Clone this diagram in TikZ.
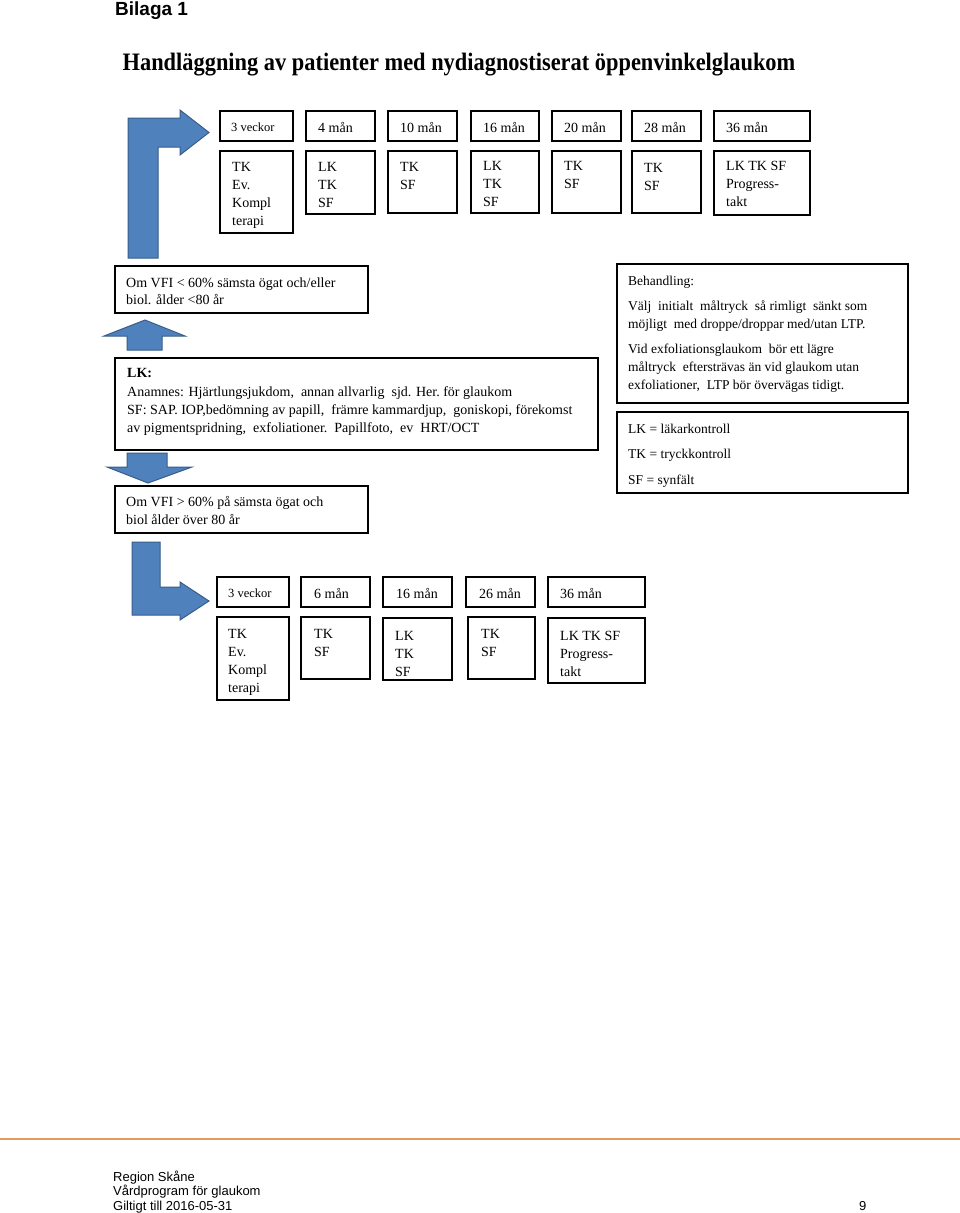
\documentclass[tikz,border=0pt]{standalone}
\usepackage{fontspec}
\setmainfont{Liberation Serif}
\newfontfamily\arialf{Liberation Sans}
\usetikzlibrary{fit}
\definecolor{arrowblue}{HTML}{4F81BD}
\definecolor{arrowedge}{HTML}{385D8A}
\definecolor{footline}{HTML}{E39A5F}
\tikzset{
  bx/.style={draw=black, line width=1.4pt, inner sep=0pt},
  txt/.style={anchor=base west, align=left, inner sep=0pt, font=\fontsize{14}{18}\selectfont},
  smalltxt/.style={anchor=base west, align=left, inner sep=0pt, font=\fontsize{12.5}{15}\selectfont},
  medtxt/.style={anchor=base west, align=left, inner sep=0pt, font=\fontsize{13.5}{18}\selectfont},
  foot/.style={anchor=base west, align=left, inner sep=0pt, font=\arialf\fontsize{13}{14.5}\selectfont},
  blockarrow/.style={fill=arrowblue, draw=arrowedge, line width=1pt, line join=miter}
}
\newcommand\mkbox[5]{\node[bx, fit={(#2,#3) (#4,#5)}] (#1) {};}
\begin{document}
\begin{tikzpicture}[x=1pt,y=-1pt]
\useasboundingbox[fill=white] (0,0) rectangle (960,1213);

% heading
\node[anchor=base west, inner sep=0pt, font=\arialf\bfseries\fontsize{19}{22}\selectfont] (bilaga) at (115,15) {Bilaga 1};
\node[anchor=base, inner sep=0pt, font=\bfseries\fontsize{22.4}{26}\selectfont] (title) at (459,70) {\scalebox{1}[1.12]{Handläggning av patienter med nydiagnostiserat öppenvinkelglaukom}};

% top timeline headers
\mkbox{h1}{220}{111}{293}{141}
\mkbox{h2}{306}{111}{375}{141}
\mkbox{h3}{388}{111}{457}{141}
\mkbox{h4}{471}{111}{539}{141}
\mkbox{h5}{552}{111}{621}{141}
\mkbox{h6}{632}{111}{701}{141}
\mkbox{h7}{714}{111}{810}{141}
\node[smalltxt] (h1t) at (231,131) {3 veckor};
\node[txt] (h2t) at (318,132) {4 mån};
\node[txt] (h3t) at (400,132) {10 mån};
\node[txt] (h4t) at (483,132) {16 mån};
\node[txt] (h5t) at (564,132) {20 mån};
\node[txt] (h6t) at (644,132) {28 mån};
\node[txt] (h7t) at (726,132) {36 mån};

% top timeline contents (anchor = baseline of last line)
\mkbox{c1}{220}{151}{293}{233}
\mkbox{c2}{306}{151}{375}{214}
\mkbox{c3}{388}{151}{457}{213}
\mkbox{c4}{471}{151}{539}{213}
\mkbox{c5}{552}{151}{621}{213}
\mkbox{c6}{632}{151}{701}{213}
\mkbox{c7}{714}{151}{810}{215}
\node[txt] (c1t) at (232,225) {TK\\Ev.\\Kompl\\terapi};
\node[txt] (c2t) at (318,207) {LK\\TK\\SF};
\node[txt] (c3t) at (400,189) {TK\\SF};
\node[txt] (c4t) at (483,206) {LK\\TK\\SF};
\node[txt] (c5t) at (564,188) {TK\\SF};
\node[txt] (c6t) at (644,190) {TK\\SF};
\node[txt] (c7t) at (726,206) {LK TK SF\\Progress-\\takt};

% top bent arrow
\draw[blockarrow] (128,258) -- (128,118) -- (180,118) -- (180,110) -- (209,132.5) -- (180,155) -- (180,147) -- (158,147) -- (158,258) -- cycle;

% left column boxes
\mkbox{vfilow}{115}{266}{368}{313}
\node[txt, font=\fontsize{14}{17}\selectfont] (vfilowt) at (126,304) {Om VFI < 60\% sämsta ögat och/eller\\biol. ålder <80 år};

\draw[blockarrow] (127,350) -- (127,336) -- (104,336) -- (145,320) -- (185,336) -- (162,336) -- (162,350) -- cycle;

\mkbox{lk}{115}{358}{598}{450}
\node[txt] (lkt) at (127,432) {\textbf{LK:}\\[1pt]Anamnes: Hjärtlungsjukdom,\ \ annan allvarlig\ \ sjd. Her.\ för glaukom\\SF: SAP. IOP,bedömning av papill,\ \ främre kammardjup,\ \ goniskopi, förekomst\\av pigmentspridning,\ \ exfoliationer.\ \ Papillfoto,\ \ ev\ \ HRT/OCT};

\draw[blockarrow] (127,453) -- (167,453) -- (167,467) -- (192,467) -- (148,483) -- (107,467) -- (127,467) -- cycle;

\mkbox{vfihigh}{115}{486}{368}{533}
\node[txt] (vfihight) at (126,524) {Om VFI > 60\% på sämsta ögat och\\biol ålder över 80 år};

% right column boxes
\mkbox{beh}{617}{264}{908}{403}
\node[medtxt] (beht) at (628,285) {Behandling:};
\node[medtxt] (beht2) at (628,328) {Välj\ \ initialt\ \ måltryck\ \ så rimligt\ \ sänkt som\\möjligt\ \ med droppe/droppar med/utan LTP.};
\node[medtxt] (beht3) at (628,389) {Vid exfoliationsglaukom\ \ bör ett lägre\\måltryck\ \ eftersträvas än vid glaukom utan\\exfoliationer,\ \ LTP bör övervägas tidigt.};

\mkbox{leg}{617}{412}{908}{493}
\node[medtxt] (leg1) at (628,433) {LK = läkarkontroll};
\node[medtxt] (leg2) at (628,458) {TK = tryckkontroll};
\node[medtxt] (leg3) at (628,484) {SF = synfält};

% bottom bent arrow
\draw[blockarrow] (132,542) -- (160,542) -- (160,587) -- (180,587) -- (180,582) -- (209,601) -- (180,620) -- (180,615) -- (132,615) -- cycle;

% bottom timeline headers
\mkbox{b1}{217}{577}{289}{607}
\mkbox{b2}{301}{577}{370}{607}
\mkbox{b3}{383}{577}{452}{607}
\mkbox{b4}{466}{577}{535}{607}
\mkbox{b5}{548}{577}{645}{607}
\node[smalltxt] (b1t) at (228,597) {3 veckor};
\node[txt] (b2t) at (314,598) {6 mån};
\node[txt] (b3t) at (396,598) {16 mån};
\node[txt] (b4t) at (479,598) {26 mån};
\node[txt] (b5t) at (560,598) {36 mån};

% bottom timeline contents
\mkbox{d1}{217}{617}{289}{700}
\mkbox{d2}{301}{617}{370}{679}
\mkbox{d3}{383}{618}{452}{680}
\mkbox{d4}{468}{617}{535}{679}
\mkbox{d5}{548}{618}{645}{683}
\node[txt] (d1t) at (228,692) {TK\\Ev.\\Kompl\\terapi};
\node[txt] (d2t) at (314,656) {TK\\SF};
\node[txt] (d3t) at (395,676) {LK\\TK\\SF};
\node[txt] (d4t) at (481,656) {TK\\SF};
\node[txt] (d5t) at (560,676) {LK TK SF\\Progress-\\takt};

% footer
\draw[footline, line width=2pt] (0,1139) -- (960,1139);
\node[foot] (f1) at (113,1210) {Region Skåne\\Vårdprogram för glaukom\\Giltigt till 2016-05-31};
\node[foot] (f2) at (859,1210) {9};
\end{tikzpicture}
\end{document}
